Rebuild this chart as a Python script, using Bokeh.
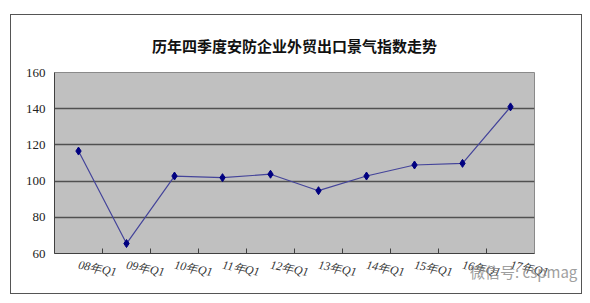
from bokeh.plotting import figure
from bokeh.models import FixedTicker, Range1d, Title, ColumnDataSource, Div
from bokeh.layouts import column
from bokeh.embed import file_html
from bokeh.resources import INLINE

categories = ["08年Q1", "09年Q1", "10年Q1", "11年Q1", "12年Q1",
              "13年Q1", "14年Q1", "15年Q1", "16年Q1", "17年Q1"]
values = [116.6, 65.5, 102.8, 101.9, 103.8, 94.7, 102.8, 108.9, 109.8, 141.0]
y_ticks = [60, 80, 100, 120, 140, 160]
title_text = "历年四季度安防企业外贸出口景气指数走势"
watermark = "微信号: cspmag"

n = len(categories)
xs = [i + 0.5 for i in range(n)]
src = ColumnDataSource(dict(x=xs, y=values, cat=categories))

p = figure(width=570, height=278, output_backend="svg", toolbar_location=None,
           x_range=Range1d(0, n), y_range=Range1d(60, 160),
           min_border_left=43, min_border_right=47, min_border_top=0, min_border_bottom=40,
           margin=(15, 0, 0, 11),
           styles={"outline": "1px solid #555555"})
p.background_fill_color = "#c0c0c0"
p.border_fill_color = "white"
p.outline_line_color = "#8a8a8a"

t = Title(text=title_text, align="center", text_font="Noto Sans CJK SC",
          text_font_size="15px", text_font_style="bold", text_color="#111111",
          standoff=34, offset=-5)
p.add_layout(t, "above")

# grid
p.xgrid.visible = False
p.ygrid.ticker = FixedTicker(ticks=y_ticks)
p.ygrid.grid_line_color = "#505050"
p.ygrid.grid_line_width = 1.6

# y axis
p.yaxis.ticker = FixedTicker(ticks=y_ticks)
p.yaxis.axis_line_color = "#404040"
p.yaxis.major_tick_in = 0
p.yaxis.major_tick_out = 0
p.yaxis.minor_tick_line_color = None
p.yaxis.major_label_text_font = "Liberation Serif"
p.yaxis.major_label_text_font_size = "13px"
p.yaxis.major_label_text_color = "#222222"
p.yaxis.major_label_standoff = 9

# x axis
p.xaxis.ticker = FixedTicker(ticks=xs, minor_ticks=list(range(1, n)))
p.xaxis.major_label_overrides = {x: c for x, c in zip(xs, categories)}
p.xaxis.axis_line_color = "#404040"
p.xaxis.major_tick_in = 0
p.xaxis.major_tick_out = 0
p.xaxis.minor_tick_in = 5
p.xaxis.minor_tick_out = 0
p.xaxis.minor_tick_line_color = "#404040"
p.xaxis.major_label_orientation = -0.2
p.xaxis.major_label_text_font = "Liberation Serif"
p.xaxis.major_label_text_font_style = "italic"
p.xaxis.major_label_text_font_size = "12px"
p.xaxis.major_label_text_color = "#333333"
p.xaxis.major_label_standoff = 11

p.line("x", "y", source=src, line_color="#44449a", line_width=1.2)
p.scatter("x", "y", source=src, marker="diamond", size=8,
          fill_color="#000080", line_color="#000080")

wm = Div(text=watermark, width=120, height=20, margin=(-32, 0, 0, 470),
         styles={"color": "#8f8f8f", "font-family": "Noto Sans CJK SC",
                 "font-size": "15px", "opacity": "0.85", "white-space": "nowrap"})

layout = column(p, wm, spacing=0)
open("out.html", "w").write(file_html(layout, INLINE))
